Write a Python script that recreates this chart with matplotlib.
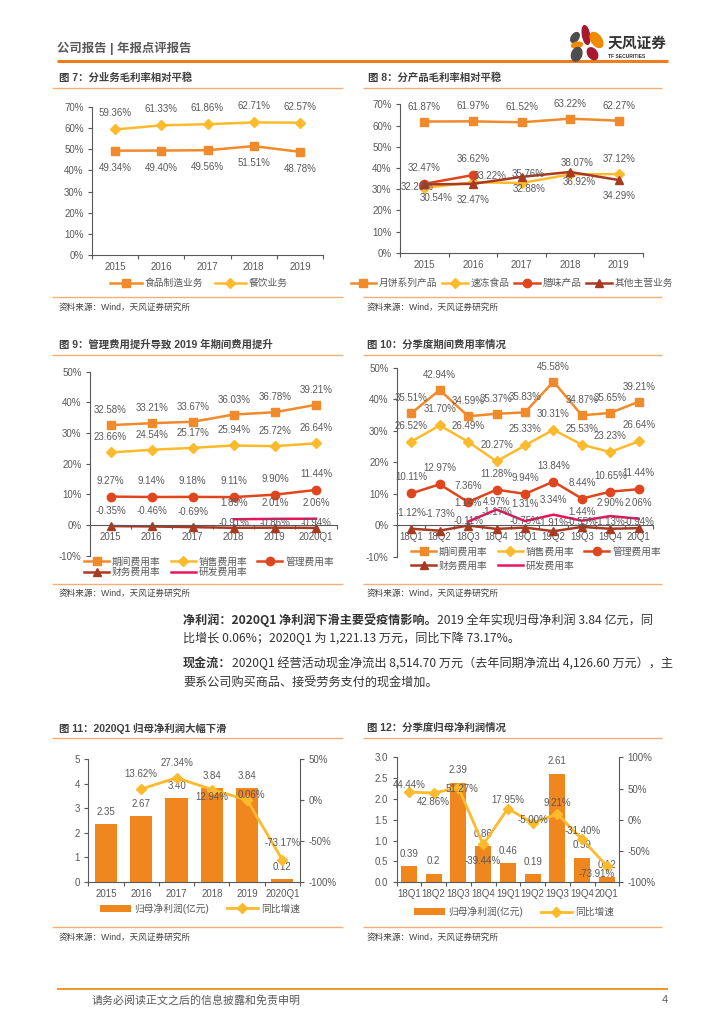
import numpy as np
import matplotlib
matplotlib.use('Agg')
import matplotlib.pyplot as plt
from matplotlib.patches import Ellipse, Patch

plt.rcParams['font.family'] = ['Liberation Sans', 'Noto Sans CJK SC']
plt.rcParams['axes.unicode_minus'] = False

W, H = 724, 1024

# ---- data ----
years = ['2015', '2016', '2017', '2018', '2019']
food_mfg = [49.34, 49.40, 49.56, 51.51, 48.78]
catering = [59.36, 61.33, 61.86, 62.71, 62.57]

mooncake = [61.87, 61.97, 61.52, 63.22, 62.27]
frozen = [30.54, 33.22, 32.88, 36.92, 37.12]
cured = [32.47, 36.62, None, None, None]
other_biz = [32.20, 32.47, 35.76, 38.07, 34.29]

years_q = ['2015', '2016', '2017', '2018', '2019', '2020Q1']
period_y = [32.58, 33.21, 33.67, 36.03, 36.78, 39.21]
sales_y = [23.66, 24.54, 25.17, 25.94, 25.72, 26.64]
admin_y = [9.27, 9.14, 9.18, 9.11, 9.90, 11.44]
fin_y = [-0.35, -0.46, -0.69, -0.91, -0.86, -0.94]
rd_y = [None, None, None, 1.89, 2.01, 2.06]

quarters = ['18Q1', '18Q2', '18Q3', '18Q4', '19Q1', '19Q2', '19Q3', '19Q4', '20Q1']
period_q = [35.51, 42.94, 34.59, 35.37, 35.83, 45.58, 34.87, 35.65, 39.21]
sales_q = [26.52, 31.70, 26.49, 20.27, 25.33, 30.31, 25.53, 23.23, 26.64]
admin_q = [10.11, 12.97, 7.36, 11.28, 9.94, 13.84, 8.44, 10.65, 11.44]
fin_q = [-1.12, -1.73, -0.11, -1.17, -0.75, -1.91, -0.55, -1.13, -0.94]
rd_q = [None, None, 1.14, 4.97, 1.31, 3.34, 1.44, 2.90, 2.06]

profit_y = [2.35, 2.67, 3.40, 3.84, 3.84, 0.12]
profit_y_yoy = [None, 13.62, 27.34, 12.94, 0.06, -73.17]

profit_q = [0.39, 0.2, 2.39, 0.86, 0.46, 0.19, 2.61, 0.59, 0.12]
profit_q_yoy = [44.44, 42.86, 51.27, -39.44, 17.95, -5.00, 9.21, -31.40, -73.91]

# ---- styles ----
C_OR = '#F08A2B'
C_YE = '#FDBA2C'
C_RE = '#E0461E'
C_DR = '#A93A22'
C_PK = '#E8155E'
C_BAR = '#F0861E'
TXT = '#595959'
AX = '#595959'
DARK = '#404040'

fig = plt.figure(figsize=(7.24, 10.24), dpi=100)
page = fig.add_axes([0, 0, 1, 1], zorder=0)
page.set_xlim(0, W)
page.set_ylim(H, 0)
page.axis('off')


def px_axes(l, t, r, b):
    ax = fig.add_axes([l / W, 1 - b / H, (r - l) / W, (b - t) / H], zorder=2)
    ax.set_facecolor('none')
    return ax


def hline(x0, x1, y, color, lw):
    page.plot([x0, x1], [y, y], color=color, lw=lw, solid_capstyle='butt')


def cat_axis(ax, labels, ymin, ymax, yticks, yfmt, zero=False):
    n = len(labels)
    ax.set_xlim(-0.5, n - 0.5)
    ax.set_ylim(ymin, ymax)
    ax.set_xticks(np.arange(-0.5, n, 1.0))
    ax.set_xticklabels([])
    ax.set_xticks(np.arange(n), minor=True)
    ax.set_xticklabels(labels, minor=True)
    ax.tick_params(axis='x', which='major', length=3, direction='out', color=AX, width=0.8)
    ax.tick_params(axis='x', which='minor', length=0, pad=5, labelsize=7, labelcolor=TXT)
    ax.set_yticks(yticks)
    ax.set_yticklabels([yfmt.format(v) for v in yticks])
    ax.tick_params(axis='y', length=3, direction='out', color=AX, width=0.8,
                   labelsize=7, labelcolor=TXT, pad=3)
    for s in ['top', 'right']:
        ax.spines[s].set_visible(False)
    for s in ['left', 'bottom']:
        ax.spines[s].set_color(AX)
        ax.spines[s].set_linewidth(0.8)
    if zero:
        ax.spines['bottom'].set_position(('data', 0))


def put_labels(ax, vals, fmt, dys, dxs=None, size=7):
    for i, v in enumerate(vals):
        if v is None:
            continue
        dx = 0 if dxs is None else dxs[i]
        ax.annotate(fmt.format(v), (i, v), xytext=(dx, dys[i]), textcoords='offset pixels',
                    ha='center', va='center', fontsize=size, color=TXT, zorder=5)


def series(ax, vals, color, marker, ms=5.5, lw=1.8):
    arr = np.array(vals, dtype=float)
    return ax.plot(np.arange(len(arr)), arr, color=color, lw=lw, marker=marker,
                   markersize=ms, markerfacecolor=color, markeredgecolor=color)[0]


def legend_at(ax, handles, labels, cx, cy, ncol, spacing=0.3, colsp=1.2, hl=3.2, fs=7):
    ax.legend(handles, labels, loc='center', bbox_to_anchor=(cx / W, 1 - cy / H),
              bbox_transform=fig.transFigure, ncol=ncol, frameon=False, fontsize=fs,
              handlelength=hl, handletextpad=0.3, columnspacing=colsp,
              labelspacing=spacing, borderaxespad=0, borderpad=0, labelcolor=TXT)


# ---- page header ----
page.text(57, 48, '公司报告 | 年报点评报告', fontsize=8.9, fontweight='bold', color=TXT,
          va='center', ha='left')
hline(57, 668, 61, '#EE7D1F', 2.2)
for (cx, cy, w, h, ang, col) in [(586, 35, 7, 19, -10, '#A6192E'),
                                 (575, 37.5, 7, 11, 35, '#4D4D4D'),
                                 (596.5, 40, 10, 17, -35, '#F08A00'),
                                 (577, 45, 11, 5.5, -10, '#F08A00'),
                                 (576.7, 54.3, 10, 14, 20, '#4D4D4D'),
                                 (592.5, 53.7, 9, 13, -35, '#A6192E')]:
    page.add_patch(Ellipse((cx, cy), w, h, angle=ang, color=col, zorder=3))
page.text(608, 43, '天风证券', fontsize=10.6, fontweight='bold', color='#333333',
          va='center', ha='left', family=['Noto Sans CJK SC'])
page.text(608, 56, 'TF SECURITIES', fontsize=3.6, fontweight='bold', color='#333333',
          va='center', ha='left')

# ---- section titles / dividers / sources ----
titles = [(59, 78, '图 7：分业务毛利率相对平稳'), (368, 78, '图 8：分产品毛利率相对平稳'),
          (59, 345, '图 9：管理费用提升导致 2019 年期间费用提升'), (367, 345, '图 10：分季度期间费用率情况'),
          (59, 728, '图 11：2020Q1 归母净利润大幅下滑'), (367, 728, '图 12：分季度归母净利润情况')]
for x, y, t in titles:
    page.text(x, y, t, fontsize=7.5, fontweight='bold', color=DARK, va='center', ha='left')
for y in [88, 355, 737.5, 297, 584, 927]:
    hline(52, 343, y, '#F5AE74', 1.0)
    hline(363, 662, y, '#F5AE74', 1.0)
for x, y in [(59, 307.5), (367, 307.5), (59, 593), (367, 593), (59, 937), (367, 937)]:
    page.text(x, y, '资料来源：Wind，天风证券研究所', fontsize=6.2, color=DARK, va='center', ha='left')

# ---- figure 7 ----
ax7 = px_axes(92, 107, 323, 255)
cat_axis(ax7, years, 0, 70, list(range(0, 71, 10)), '{:.0f}%')
h1 = series(ax7, food_mfg, C_OR, 's', ms=6)
h2 = series(ax7, catering, C_YE, 'D', ms=5)
put_labels(ax7, food_mfg, '{:.2f}%', [-17] * 5)
put_labels(ax7, catering, '{:.2f}%', [16] * 5)
legend_at(ax7, [h1, h2], ['食品制造业务', '餐饮业务'], 199, 283, 2)

# ---- figure 8 ----
ax8 = px_axes(400, 104.3, 643, 252.7)
cat_axis(ax8, years, 0, 70, list(range(0, 71, 10)), '{:.0f}%')
g1 = series(ax8, mooncake, C_OR, 's', ms=6)
g2 = series(ax8, frozen, C_YE, 'D', ms=5)
g3 = series(ax8, cured, C_RE, 'o', ms=6)
g4 = series(ax8, other_biz, C_DR, '^', ms=6)
put_labels(ax8, mooncake, '{:.2f}%', [15] * 5)
put_labels(ax8, frozen, '{:.2f}%', [-10, 6, -6, -8, 15], [12, 17, 8, 9, 0])
put_labels(ax8, cured, '{:.2f}%', [16, 16, 0, 0, 0])
put_labels(ax8, other_biz, '{:.2f}%', [-3, -16, 3, 9, -16], [-7, 0, 7, 7, 0])
legend_at(ax8, [g1, g2, g3, g4], ['月饼系列产品', '速冻食品', '腊味产品', '其他主营业务'],
          512, 283, 4, colsp=0.5, hl=2.6)

# ---- figure 9 ----
ax9 = px_axes(90, 371.7, 336.5, 555.7)
cat_axis(ax9, years_q, -10, 50, list(range(-10, 51, 10)), '{:.0f}%', zero=True)
k1 = series(ax9, period_y, C_OR, 's', ms=6)
k2 = series(ax9, sales_y, C_YE, 'D', ms=5)
k3 = series(ax9, admin_y, C_RE, 'o', ms=6)
k4 = series(ax9, fin_y, C_DR, '^', ms=6)
k5 = ax9.plot(np.arange(6), np.array(rd_y, dtype=float), color=C_PK, lw=1.8)[0]
put_labels(ax9, period_y, '{:.2f}%', [15] * 6)
put_labels(ax9, sales_y, '{:.2f}%', [15] * 6)
put_labels(ax9, admin_y, '{:.2f}%', [16] * 6)
put_labels(ax9, fin_y, '{:.2f}%', [15, 15, 15, 5, 5, 5])
put_labels(ax9, rd_y, '{:.2f}%', [16] * 6)
legend_at(ax9, [k1, k4, k2, k5, k3], ['期间费用率', '财务费用率', '销售费用率', '研发费用率', '管理费用率'],
          209, 567, 3, spacing=0.05, colsp=1.0, hl=2.6)

# ---- figure 10 ----
ax10 = px_axes(397, 367.7, 653, 556.7)
cat_axis(ax10, quarters, -10, 50, list(range(-10, 51, 10)), '{:.0f}%', zero=True)
m1 = series(ax10, period_q, C_OR, 's', ms=6)
m2 = series(ax10, sales_q, C_YE, 'D', ms=5)
m3 = series(ax10, admin_q, C_RE, 'o', ms=6)
m4 = series(ax10, fin_q, C_DR, '^', ms=6)
m5 = ax10.plot(np.arange(9), np.array(rd_q, dtype=float), color=C_PK, lw=1.8)[0]
put_labels(ax10, period_q, '{:.2f}%', [15] * 9)
put_labels(ax10, sales_q, '{:.2f}%', [16] * 9)
put_labels(ax10, admin_q, '{:.2f}%', [16] * 9)
put_labels(ax10, rd_q, '{:.2f}%', [0, 0, 19, 8, 17, 15, 9, 13, 16])
put_labels(ax10, fin_q, '{:.2f}%', [16, 17, 5, 17, 7, 8, 5, 7, 6])
legend_at(ax10, [m1, m4, m2, m5, m3], ['期间费用率', '财务费用率', '销售费用率', '研发费用率', '管理费用率'],
          536, 558.7, 3, spacing=0.45, colsp=1.0, hl=2.6)

# ---- figure 11 ----
ax11 = px_axes(88.4, 759.3, 300, 881.7)
cat_axis(ax11, years_q, 0, 5, list(range(0, 6)), '{:.0f}')
ax11.bar(np.arange(6), profit_y, width=0.63, color=C_BAR, zorder=2)
put_labels(ax11, profit_y, '{:.2f}', [12] * 6)
ax11b = ax11.twinx()
ax11b.set_ylim(-100, 50)
ax11b.set_yticks([-100, -50, 0, 50])
ax11b.set_yticklabels(['{:.0f}%'.format(v) for v in [-100, -50, 0, 50]])
ax11b.tick_params(axis='y', length=3, direction='out', color=AX, width=0.8,
                  labelsize=7, labelcolor=TXT, pad=3)
for s in ['top', 'left', 'bottom']:
    ax11b.spines[s].set_visible(False)
ax11b.spines['right'].set_color(AX)
ax11b.spines['right'].set_linewidth(0.8)
n1 = series(ax11b, profit_y_yoy, C_YE, 'D', ms=5.5, lw=2)
put_labels(ax11b, profit_y_yoy, '{:.2f}%', [0, 15, 15, -7, 5, 17], [0, 0, 0, 0, 4, 0])
legend_at(ax11b, [Patch(facecolor=C_BAR), n1], ['归母净利润(亿元)', '同比增速'], 200, 908.3, 2, colsp=1.8)

# ---- figure 12 ----
ax12 = px_axes(396.5, 757.3, 619.3, 882.3)
cat_axis(ax12, quarters, 0, 3, [0, 0.5, 1, 1.5, 2, 2.5, 3], '{:.1f}')
ax12.bar(np.arange(9), profit_q, width=0.64, color=C_BAR, zorder=2)
put_labels(ax12, profit_q, '{:g}', [12.5] * 9)
ax12b = ax12.twinx()
ax12b.set_ylim(-100, 100)
ax12b.set_yticks([-100, -50, 0, 50, 100])
ax12b.set_yticklabels(['{:.0f}%'.format(v) for v in [-100, -50, 0, 50, 100]])
ax12b.tick_params(axis='y', length=3, direction='out', color=AX, width=0.8,
                  labelsize=7, labelcolor=TXT, pad=3)
for s in ['top', 'left', 'bottom']:
    ax12b.spines[s].set_visible(False)
ax12b.spines['right'].set_color(AX)
ax12b.spines['right'].set_linewidth(0.8)
p1 = series(ax12b, profit_q_yoy, C_YE, 'D', ms=5.5, lw=2)
put_labels(ax12b, profit_q_yoy, '{:.2f}%', [7, -9, -1, -17, 9, 3, 11, 8, -8],
           [0, 0, 4, 0, 0, 0, 0, 0, -10])
legend_at(ax12b, [Patch(facecolor=C_BAR), p1], ['归母净利润(亿元)', '同比增速'], 514, 911.7, 2, colsp=1.8)

# ---- body text ----
renderer = fig.canvas.get_renderer()
FS = 8.7


def rich_line(x, y, parts):
    for txt, bold in parts:
        t = page.text(x, y, txt, fontsize=FS, fontweight='bold' if bold else 'normal',
                      color='#333333', va='center', ha='left', family=['Noto Sans CJK SC'])
        bb = t.get_window_extent(renderer)
        x = bb.x1


rich_line(183, 620, [('净利润：2020Q1 净利润下滑主要受疫情影响。', True),
                     ('2019 全年实现归母净利润 3.84 亿元，同', False)])
rich_line(183, 638.5, [('比增长 0.06%；2020Q1 为 1,221.13 万元，同比下降 73.17%。', False)])
rich_line(183, 663, [('现金流：', True),
                     ('2020Q1 经营活动现金净流出 8,514.70 万元（去年同期净流出 4,126.60 万元），主', False)])
rich_line(183, 683, [('要系公司购买商品、接受劳务支付的现金增加。', False)])

# ---- footer ----
hline(57, 668, 989, '#EE9A2E', 1.5)
page.text(92, 1000, '请务必阅读正文之后的信息披露和免责申明', fontsize=7.9, color=TXT, va='center', ha='left')
page.text(668, 1000, '4', fontsize=7.9, color=TXT, va='center', ha='right')

fig.savefig('out.png', dpi=100)
